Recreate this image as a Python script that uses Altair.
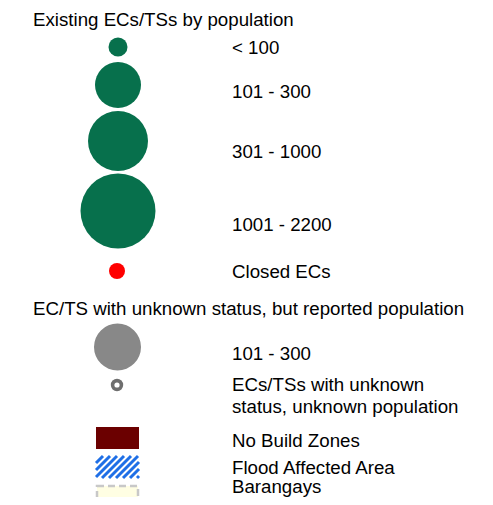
import altair as alt
import pandas as pd

# ---- content ----
group_titles = ["Existing ECs/TSs by population",
                "EC/TS with unknown status, but reported population"]
pop_classes = ["< 100", "101 - 300", "301 - 1000", "1001 - 2200"]
closed_label = ["Closed ECs"]
unknown_pop_classes = ["101 - 300"]
unknown_label = ["ECs/TSs with unknown", "status, unknown population"]
area_labels = ["No Build Zones", "Flood Affected Area", "Barangays"]

# ---- layout (reference pixel space) ----
W, H = 477, 489
OX, OY = 8, 8
title_x = 33
label_x = 232
sym_x = 118
title_base = [25.5, 315]
pop_centers = [47, 85, 141, 211]
pop_radii = [9.5, 23, 30, 37.5]
pop_base = [54, 98, 158, 231]
closed_center, closed_r, closed_base = 271, 8, 278
unk_center, unk_r, unk_base = 347, 23.5, 360
ring_center, ring_r, ring_hole = 385, 6.2, 2.6
unk_label_base = [391, 413]
rect_x0, rect_x1 = 96, 139
rect_rows = [(427, 449), (456, 478), (486, 506)]
area_base = [447, 474, 493]

GREEN = "#07704c"
FONT = "Liberation Sans"
FS = 18.7

xs = alt.Scale(domain=[OX, OX + W], range=[0, W])
ys = alt.Scale(domain=[OY, OY + H], range=[0, H])


def sym_size(r):
    # Vega circle symbol: size is the area of the bounding square (diameter^2)
    return (2 * r) ** 2


# text table
texts = []
for t, b in zip(group_titles, title_base):
    texts.append({"x": title_x, "y": b, "t": t})
for t, b in zip(pop_classes, pop_base):
    texts.append({"x": label_x, "y": b, "t": t})
texts.append({"x": label_x, "y": closed_base, "t": closed_label[0]})
texts.append({"x": label_x, "y": unk_base, "t": unknown_pop_classes[0]})
for t, b in zip(unknown_label, unk_label_base):
    texts.append({"x": label_x, "y": b, "t": t})
for t, b in zip(area_labels, area_base):
    texts.append({"x": label_x, "y": b, "t": t})
tdf = pd.DataFrame(texts)

# circles table
circ = []
for c, r in zip(pop_centers, pop_radii):
    circ.append({"x": sym_x, "y": c, "a": sym_size(r), "c": GREEN})
circ.append({"x": sym_x - 1, "y": closed_center, "a": sym_size(closed_r), "c": "#ff0000"})
circ.append({"x": sym_x - 0.5, "y": unk_center, "a": sym_size(unk_r), "c": "#888888"})
circ.append({"x": sym_x - 1, "y": ring_center, "a": sym_size(ring_r), "c": "#6e6e6e"})
circ.append({"x": sym_x - 1, "y": ring_center, "a": sym_size(ring_hole), "c": "#ffffff"})
cdf = pd.DataFrame(circ)
cdf["o"] = range(len(cdf))

# rects
rdf = pd.DataFrame([
    {"x": rect_x0, "x2": rect_x1, "y": rect_rows[0][0], "y2": rect_rows[0][1]},
])
bdf = pd.DataFrame([
    {"x": rect_x0 + 1, "x2": rect_x1 - 1, "y": rect_rows[2][0], "y2": rect_rows[2][1]},
])

# hatch stripes for flood area
hy0, hy1 = rect_rows[1]
hh = hy1 - hy0
stripes = []
c = rect_x0 - hh
step = 7
while c < rect_x1:
    xa, ya = c, hy1
    xb, yb = c + hh, hy0
    if xa < rect_x0:
        ya = hy1 - (rect_x0 - xa)
        xa = rect_x0
    if xb > rect_x1:
        yb = hy1 - (rect_x1 - c)
        xb = rect_x1
    if xb - xa > 0.5:
        stripes.append({"x": xa, "y": ya, "x2": xb, "y2": yb})
    c += step
sdf = pd.DataFrame(stripes)

base_enc = dict(
    x=alt.X("x:Q", scale=xs, axis=None),
    y=alt.Y("y:Q", scale=ys, axis=None),
)

text_layer = alt.Chart(tdf).mark_text(
    align="left", baseline="alphabetic", font=FONT, fontSize=FS, color="#000000"
).encode(text="t:N", **base_enc)

circle_layer = alt.Chart(cdf).mark_circle(opacity=1).encode(
    size=alt.Size("a:Q", scale=None, legend=None),
    color=alt.Color("c:N", scale=None, legend=None),
    order=alt.Order("o:Q"),
    **base_enc,
)

nbz_layer = alt.Chart(rdf).mark_rect(color="#6b0000").encode(
    x2="x2:Q", y2="y2:Q", **base_enc
)

stripe_layer = alt.Chart(sdf).mark_rule(
    color="#1f6fe6", strokeWidth=3, strokeCap="butt"
).encode(x2="x2:Q", y2="y2:Q", **base_enc)

brgy_layer = alt.Chart(bdf).mark_rect(
    fill="#fffee3", stroke="#c8c8c8", strokeWidth=2.5, strokeDash=[7, 4]
).encode(x2="x2:Q", y2="y2:Q", **base_enc)

chart = alt.layer(
    nbz_layer, stripe_layer, brgy_layer, circle_layer, text_layer
).properties(
    width=W, height=H, padding=0,
    autosize=alt.AutoSizeParams(type="none"),
).configure_view(stroke=None)

chart.save("out.html", embed_options={"renderer": "svg", "actions": False})
